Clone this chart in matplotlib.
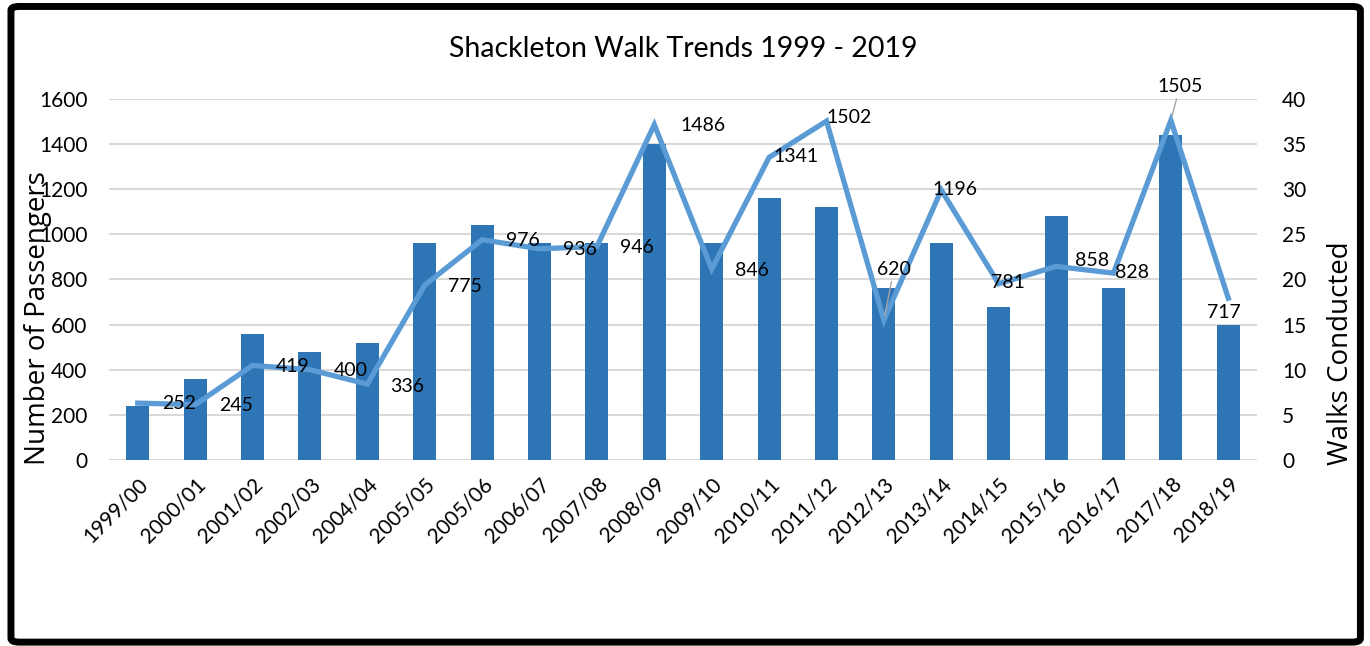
import numpy as np
import matplotlib
matplotlib.use("Agg")
import matplotlib.pyplot as plt
from matplotlib.patches import FancyBboxPatch

# data
seasons = ["1999/00", "2000/01", "2001/02", "2002/03", "2004/04", "2005/05",
           "2005/06", "2006/07", "2007/08", "2008/09", "2009/10", "2010/11",
           "2011/12", "2012/13", "2013/14", "2014/15", "2015/16", "2016/17",
           "2017/18", "2018/19"]
passengers = [252, 245, 419, 400, 336, 775, 976, 936, 946, 1486,
              846, 1341, 1502, 620, 1196, 781, 858, 828, 1505, 717]
walks = [6, 9, 14, 12, 13, 24, 26, 24, 24, 35,
         24, 29, 28, 19, 24, 17, 27, 19, 36, 15]

# label nudges (pixels, right / up) and which labels get a leader line
label_offsets = [(41, 0), (41, -1), (40, -1), (41, -1), (40, -2), (40, -1),
                 (41, -1), (40, -1), (40, -1), (49, -1), (40, -1), (27, 1),
                 (23, 4), (10, 51), (14, 1), (9, 1), (36, 6), (19, 1),
                 (9, 34), (-4, -14)]
leader = [13, 18]

plt.rcParams["font.family"] = ["Lato", "DejaVu Sans"]

fig = plt.figure(figsize=(13.7, 6.46), dpi=100)
ax = fig.add_axes([0.0796, 0.288, 0.8379, 0.5588])
ax2 = ax.twinx()

x = np.arange(len(seasons))

# bars on the right axis, line on the left axis drawn on top
ax2.bar(x, walks, width=0.4, color="#2E75B6", zorder=2)
ax2.set_ylim(0, 40)
ax2.set_yticks(range(0, 41, 5))
ax2.yaxis.grid(True, color="#D9D9D9", linewidth=1.5, zorder=0)
ax2.set_axisbelow(True)

ax.set_zorder(ax2.get_zorder() + 1)
ax.patch.set_visible(False)
ax.plot(x, passengers, color="#5B9BD5", linewidth=3.8, solid_joinstyle="miter", zorder=3)
ax.set_ylim(0, 1600)
ax.set_yticks(range(0, 1601, 200))
ax.set_xlim(-0.5, len(seasons) - 0.5)

for i, v in enumerate(passengers):
    dx, dy = label_offsets[i]
    kw = {}
    if i in leader:
        kw["arrowprops"] = dict(arrowstyle="-", color="#A6A6A6", lw=1,
                                shrinkA=1, shrinkB=3)
    ax.annotate(str(v), (x[i], v), xytext=(dx, dy), textcoords="offset pixels",
                ha="center", va="center", fontsize=14, color="black", zorder=5, **kw)

ax.set_xticks(x)
ax.set_xticklabels(seasons, rotation=45, ha="right", rotation_mode="anchor", fontsize=15)

for a in (ax, ax2):
    for s in a.spines.values():
        s.set_visible(False)
    a.tick_params(length=0, labelsize=15)
ax.tick_params(axis="x", pad=10)
ax.tick_params(axis="y", pad=15.5)
ax2.tick_params(axis="y", pad=18)

ax.set_ylabel("Number of Passengers", fontsize=20, family=["Open Sans", "DejaVu Sans"])
ax.yaxis.set_label_coords(-0.050, 0.393)
ax2.set_ylabel("Walks Conducted", fontsize=20, family=["Open Sans", "DejaVu Sans"])
ax2.yaxis.set_label_coords(1.061, 0.296)
ax.set_title("Shackleton Walk Trends 1999 - 2019", fontsize=20.5, pad=30)

# black frame round the whole picture
frame = FancyBboxPatch((0.008, 0.006), 0.985, 0.984, boxstyle="round,pad=0,rounding_size=0.006",
                       transform=fig.transFigure, fill=False, edgecolor="black", linewidth=5)
fig.patches.append(frame)

fig.savefig("out.png", dpi=100)
